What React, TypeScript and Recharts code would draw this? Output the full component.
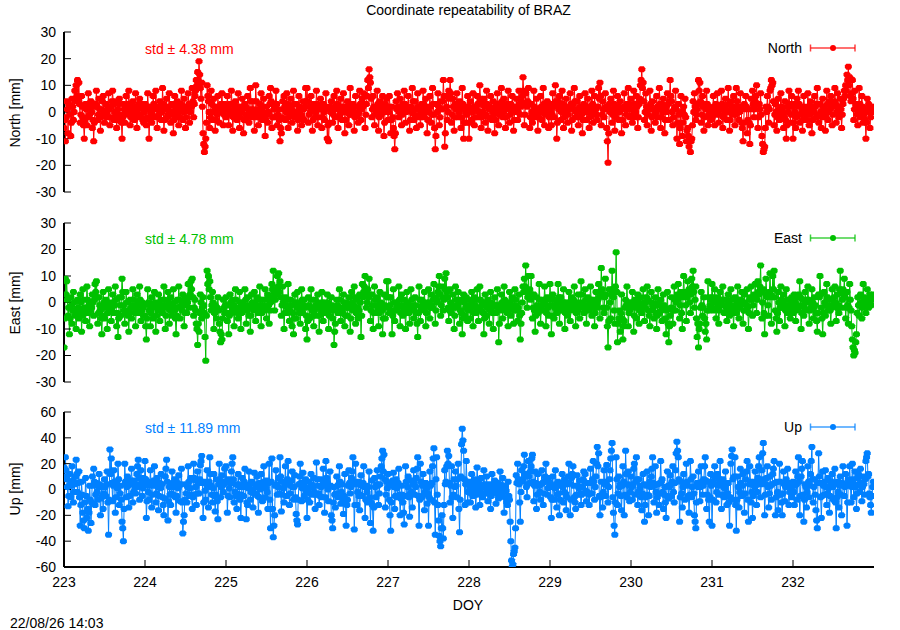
import React from 'react';
import { LineChart, Line, XAxis, YAxis } from 'recharts';

// ─── Data (mm, one sample every 1/120 day, starting DOY 223.00) ──────────────

const START_DOY = 223;
const SAMPLES_PER_DAY = 120;

const northMm = [
  // 223
  -6, -3, -11, -2, 4, 1, -8, 3, 2, -1, -9, -4, 5, 2, -3, 0, 8, 4, 10, 6,
  12, 5, 11, 3, -4, -1, 6, 2, -2, -5, -10, -3, 3, 1, -5, -2, 7, 3, -1, 2,
  4, 0, -6, -3, -11, -4, 2, 3, 8, 2, -3, -1, 5, 1, -7, -2, 1, 4, 6, 0,
  -4, -1, 3, 0, -2, 2, 7, 1, -5, -2, 2, 4, 8, 3, -3, 0, 4, -1, -6, -3,
  1, 3, 5, -1, -2, -4, -10, -2, 3, 1, -4, 0, 6, 2, -1, 3, 8, 1, -5, -2,
  2, -1, 4, 1, -3, 0, 7, 2, -6, -2, 1, 3, 5, -1, -2, 2, 3, -3, -4, 0,
  // 224
  3, 1, -5, -2, 7, 2, -10, -3, 2, 0, -4, -1, 6, 3, -2, 1, 8, 2, -6, -2,
  1, -1, 4, 2, -3, 0, 9, 3, -7, -3, 2, 1, 5, -2, -1, 2, 7, 0, -4, -1,
  3, 0, -8, -3, 6, 2, -2, 1, 4, -1, -5, -2, 1, 3, 8, 2, -3, 0, 5, 1,
  -6, -2, 2, 1, 7, 3, -4, 0, 3, 2, 9, 4, -2, 3, 6, 8, 12, 10, 15, 12,
  19, 14, 9, 5, 11, 2, -8, -12, -15, -13, -10, -4, 10, 6, 4, 0, -6, -2, 8, 3,
  -3, 0, 5, 2, -7, -3, 2, -1, 6, 1, -4, 0, 1, 3, 7, 2, -5, -1, 3, 1,
  // 225
  -2, 1, 6, 2, -5, -1, 3, 0, 8, 3, -7, -2, 1, 2, 4, -1, -3, 0, 7, 2,
  -6, -2, 2, 0, 5, 1, -8, -3, 3, 2, -1, -2, 6, 1, -4, 0, 9, 4, -2, 1,
  4, 0, -7, -2, 10, 4, 1, -1, -5, -2, 3, 1, 7, 2, -3, 0, 5, -1, -9, -3,
  2, -1, -4, 0, 6, 3, 9, 4, -6, -2, 3, 1, -2, 2, 8, 3, -5, -1, 1, -3,
  -11, -6, -8, -2, 4, 1, 6, 2, -3, 0, 7, 3, -6, -2, 2, 0, 5, 1, -4, -1,
  8, 3, -2, 0, 3, -1, -7, -3, 6, 2, 1, -1, -5, -2, 4, 1, -3, 2, 9, 4,
  // 226
  9, 4, -4, -1, 2, 0, 6, 2, -7, -3, 3, 1, -2, 0, 8, 3, -5, -2, 1, 2,
  5, 1, -6, -2, 3, 0, -3, 1, 7, 2, -10, -5, -11, -4, 2, 0, 4, 1, -4, -1,
  6, 2, -2, 1, 8, 3, -6, -2, 1, -1, 5, 2, -3, 0, 7, 2, -8, -3, 2, 0,
  4, 1, -5, -1, 9, 3, -1, 1, 3, 0, -7, -2, 6, 2, 2, -1, -4, 0, 8, 3,
  -3, 1, 5, 2, 7, 3, -6, -1, 3, 6, 12, 9, 16, 13, 11, 5, -2, 1, 6, 2,
  -5, -1, 2, 0, 8, 3, -7, -2, 4, 1, -1, 2, 6, 1, -9, -4, 3, 0, 5, 1,
  // 227
  -3, 0, 6, 2, -8, -3, 2, -2, -6, -9, -14, -8, 4, 1, 7, 2, -2, 0, 5, 1,
  -5, -1, 3, 1, 8, 3, -4, 0, 1, 2, 6, 1, -7, -3, 2, 0, 9, 4, -3, -1,
  4, 1, -6, -2, 7, 2, 1, -1, -5, -2, 3, 0, 8, 3, -2, 1, 5, 0, -8, -3,
  2, 0, 6, 2, -4, -1, 9, 3, -1, -6, -14, -9, 3, 0, 7, 2, -5, -2, 4, 1,
  1, 4, 12, 6, -13, -8, 6, 2, -3, 0, 8, 5, 12, 7, -4, -1, 5, 2, -7, -2,
  3, 1, 7, 2, -2, 0, 4, 1, -6, -2, 9, 3, -10, -4, 2, 0, -4, -1, 6, 2,
  // 228
  -10, -4, 4, 1, -3, 0, 7, 2, -5, -2, 2, 1, 6, 3, -2, 0, 10, 5, -6, -2,
  3, 0, 5, 2, -4, -1, 8, 3, -7, -2, 1, 2, 6, 1, -3, 0, 4, -1, -8, -3,
  2, 0, 7, 3, -5, -1, 3, 1, 9, 4, -2, 0, 5, 2, -6, -2, 1, 3, 8, 2,
  -4, -1, 3, 1, 6, 2, -7, -3, 2, 0, 5, 1, -3, 0, 8, 3, -1, 2, 4, 6,
  13, 8, -5, -1, 7, 3, 2, 4, 9, 3, -6, -2, 3, 0, -4, -1, 8, 2, -2, 0,
  5, 1, -7, -2, 1, 0, 6, 2, -3, 1, 9, 3, -5, -1, 2, 0, 4, 1, -6, -2,
  // 229
  3, 0, -5, -1, 7, 2, -2, 3, 10, 4, -10, -4, 4, 1, 6, 2, -3, 0, 8, 3,
  -6, -2, 2, 0, 5, 1, -4, -1, 1, 2, 7, 3, -7, -3, 3, 1, 9, 4, -2, 0,
  4, 1, -5, -2, 6, 2, 1, -1, -8, -3, 3, 0, 7, 2, -3, 0, 5, 1, -6, -2,
  2, 0, 8, 3, -4, -1, 6, 2, 1, -1, -3, 2, 9, 5, 11, 6, -5, -1, 4, 1,
  -2, 1, 7, 2, -6, -11, -19, -8, 3, 0, 5, 1, -4, -1, 8, 3, -7, -2, 2, 0,
  6, 2, -3, 0, 4, 1, -8, -3, 1, 2, 7, 2, -5, -1, 3, 1, 9, 3, -2, 1,
  // 230
  5, 1, -4, -1, 8, 3, -2, 0, 6, 2, -6, -2, 3, 5, 10, 12, 16, 9, 11, 4,
  -3, 0, 7, 2, -5, -1, 2, 1, 8, 3, -7, -2, 4, 1, 1, -1, -4, 0, 6, 2,
  -2, 1, 9, 3, -6, -2, 3, 0, 5, 2, -8, -3, 2, 0, 7, 3, -3, 4, 12, 6,
  4, 0, -5, -2, 1, 2, 8, 1, -10, -4, 3, -1, -12, -6, 6, 0, -9, -4, 2, -1,
  5, -2, -11, -7, -6, -9, -13, -10, -15, -11, -10, -5, 4, 0, 7, 2, -3, -1, 1, 3,
  12, 8, 11, 4, -4, -1, 6, 2, -7, -2, 3, 1, 8, 3, -5, -1, 2, 0, -3, 1,
  // 231
  -2, 1, 6, 2, -5, -1, 3, 0, 7, 2, -4, -1, 1, 2, 8, 3, -6, -2, 2, 0,
  5, 1, -3, 0, 9, 3, -7, -3, 4, 1, -1, 2, 6, 1, -5, -1, 9, 4, 2, 0,
  -3, 0, 7, 2, -4, -6, -11, -4, 3, 1, 6, 2, -8, -3, 1, -4, -12, -5, 5, 1,
  8, 3, -2, 1, 4, 6, 10, 3, -6, -2, 3, 1, 7, -1, -9, -12, -15, -14, -13, -6,
  2, 0, 6, 2, -4, 1, 8, 9, 12, 10, 11, 4, -5, -1, 3, 0, -7, -2, 5, 1,
  -3, 0, 7, 2, 1, -1, -6, -2, 4, -3, -10, -5, 2, 0, 8, 3, -4, -1, 6, 2,
  // 232
  -10, -4, 3, 0, -6, -2, 5, 2, 8, 3, -4, -1, 2, 0, -7, -3, 6, 2, 1, -1,
  -3, 0, 7, 2, -5, -1, 4, 1, -8, -3, 2, 0, 6, 2, -2, 3, 9, 3, -4, -1,
  3, 0, -6, -2, 5, 2, 1, -1, -7, -2, 8, 3, -3, 0, 4, 1, 6, 2, -5, -1,
  2, 4, 9, 3, -4, 0, 7, 2, -2, 1, 5, 1, -6, -1, 3, 5, 8, 6, 10, 8,
  14, 12, 17, 10, 13, 6, 4, 7, 12, 5, -3, 1, 8, 3, 2, -1, -5, 0, 9, 3,
  -2, 1, 6, 2, -4, -1, 1, -3, -10, -4, 5, 1, 3, 0, -6, -2, 2, 0, 1, 2,
];

const eastMm = [
  // 223
  -17, -6, 9, 3, 8, 1, -5, -2, -12, -6, 2, -1, -8, -3, 4, 0, -3, -5, -10, -4,
  1, -2, -6, -3, 3, 0, -11, -5, 5, 1, -2, -4, -7, -2, 6, 1, -4, -1, -9, -3,
  0, -2, 3, 0, -5, 1, 7, 4, 8, 2, -8, -4, 2, -1, -3, -6, -12, -5, 4, 0,
  -6, -2, 1, -1, -10, -4, 5, 0, -2, -3, -7, -2, 3, 0, -4, -1, 6, 1, -9, -4,
  -13, -6, 2, -1, -5, 2, 9, 4, -1, -3, -8, -4, 4, 0, -3, -5, -11, -4, 1, -2,
  -6, -1, 5, 1, -2, -4, -9, -3, 3, 0, -4, -1, 6, 1, -7, -3, 0, -2, -5, -1,
  // 224
  -5, -9, -14, -6, 5, 0, -3, -1, -9, -4, 2, -2, -6, -1, 4, 0, -11, -5, -1, -3,
  3, 0, -7, -2, 1, -3, -4, -1, 6, 1, -10, -5, -2, -1, 4, 0, -8, -3, 2, -2,
  -5, -1, 5, 0, -3, -6, -12, -5, 1, -2, 6, 1, -6, -2, -1, -3, 3, 0, -9, -4,
  2, -1, -4, 0, 7, 2, -2, 3, 8, 5, 9, 2, -5, -2, 1, -3, -8, -10, -16, -8,
  -11, -4, 3, 0, -6, -2, 2, -1, -4, -13, -22, -5, 12, 7, 10, 5, 8, 2, -3, -1,
  4, 0, -10, -4, -1, -3, -6, -2, 2, -3, -8, -11, -15, -12, -14, -6, 1, -2, -4, -1,
  // 225
  2, -1, -7, -4, -12, -5, 3, 0, -4, -2, 1, -1, -9, -3, 5, 1, -2, -4, -6, -2,
  4, 0, -10, -4, 0, -2, -3, -1, 5, 1, -8, -3, 2, -1, -5, -2, -11, -5, 3, 0,
  -1, -3, 4, 0, -7, -2, 2, -1, -4, -2, 6, 1, -9, -4, 1, -1, -2, -3, 5, 1,
  -6, -2, 3, -1, -8, -3, 0, 2, 7, 5, 12, 4, -3, 1, 5, 3, 10, 6, 11, 4,
  8, 2, -5, -1, 6, 0, -10, -4, 2, -1, -4, -2, 7, 1, -7, -3, 1, -1, -9, -4,
  -12, -6, 3, 0, -6, -2, 4, 0, -2, -4, -8, -3, 5, 1, -4, -1, 1, -2, -10, -5,
  // 226
  -14, -7, 2, -1, -6, -2, 5, 1, -3, -5, -9, -3, 1, -1, -5, -2, 3, 0, -11, -5,
  -2, -4, 4, 0, -7, -3, 0, -2, -4, -1, 3, 0, -10, -5, -1, -3, 2, -1, -6, -2,
  -16, -11, -8, -3, 1, -1, -4, -2, 5, 1, -7, -3, -2, -4, 3, 0, -9, -5, 0, -2,
  -5, -2, 2, -1, -11, -6, 4, 0, -3, -1, 6, 2, -8, -4, 1, -2, -6, -3, 3, 0,
  -13, -5, 7, 2, 4, 6, 10, 4, -2, 0, 5, 2, 9, 3, -7, -3, 3, -1, -10, -4,
  6, 1, -4, -1, 2, -2, -9, -4, 4, 0, -1, -3, -12, -6, 3, -1, -6, -2, 8, 2,
  // 227
  8, 2, -4, -1, 2, -3, -12, -5, 5, 0, -7, -3, 0, -2, -3, -1, 6, 1, -9, -4,
  3, -1, -5, -2, 1, -3, -10, -4, 4, 0, -2, -4, -8, -3, 5, 1, -1, -2, -6, -3,
  2, -1, -4, -8, -13, -4, 6, 1, -7, -2, 1, -1, -3, 0, 4, -2, -9, -4, 0, -1,
  5, 0, -6, -2, 3, -1, -2, 1, 7, 2, -8, -3, 1, 0, 4, 6, 10, 3, -5, -1,
  6, 2, -3, 1, 9, 5, 11, 4, 2, -2, -7, -3, 5, 0, -4, -1, 3, -2, -10, -5,
  6, 1, -2, -1, 4, 0, -8, -3, 1, -4, -12, -6, 3, 0, -5, -2, 2, -1, -7, -3,
  // 228
  1, -2, -6, -2, 4, 0, -9, -4, 2, -1, -4, -2, 5, 1, -7, -3, 6, 1, -3, -1,
  0, -4, -12, -6, 3, 0, -5, -2, 1, -1, -8, -3, 4, 0, -2, -4, -10, -4, 2, -1,
  -4, -1, 5, -2, -15, -8, -1, -3, 3, 0, -6, -2, 6, 1, -3, -1, 0, -4, -9, -3,
  4, 0, -5, -2, 2, -1, -8, -3, 5, 1, -1, -3, -7, -2, 3, -5, -14, -8, -4, 0,
  6, 4, 9, 6, 14, 5, -2, 2, 10, 4, 5, 1, 10, 3, -6, -2, 3, -3, -11, -5,
  2, -1, -4, -2, 7, 1, -8, -3, 1, -1, -3, 0, 6, 1, -9, -4, 2, -2, -5, -1,
  // 229
  7, 1, -12, -5, 3, -1, -6, -2, 1, -1, -4, 0, 7, 2, -8, -3, 2, -2, -3, 0,
  5, 0, -10, -4, 0, -2, -5, -1, 4, 0, -7, -3, 2, -1, -2, 1, 6, 0, -9, -4,
  -1, -3, 3, 0, -6, -1, 8, 3, 0, -2, -4, -1, 5, 1, -8, -3, 2, -1, -3, 0,
  6, 1, -5, -2, 1, -1, -9, -4, 4, 0, -2, 1, 7, 2, -6, 4, 13, 5, 3, -2,
  -4, 2, 9, 3, -2, -9, -17, -7, 5, 0, -6, 3, 12, 5, 2, -3, -8, 6, 19, 4,
  -15, -8, -6, -3, -11, -4, 3, -6, -14, -9, -7, -2, 1, -1, 6, 0, -9, -4, -3, 0,
  // 230
  -2, 0, 4, -1, -11, -5, 1, -2, -6, -1, 3, 0, -8, -3, 2, -1, -4, -2, 5, 0,
  -7, -2, 0, 2, 6, 1, -3, -5, -9, -3, 4, 0, -1, -2, -6, -1, 2, -4, -10, -5,
  5, 0, -4, -1, 1, -3, -7, -2, 3, -1, -2, -6, -12, -3, 4, -8, -15, -9, -5, -2,
  2, -2, -8, -3, 6, 1, -3, 0, 1, 3, 7, 2, -6, -1, 4, -4, -10, 2, 10, 4,
  3, -1, -7, 2, 8, 4, 5, 0, -4, 3, 9, 6, 12, 4, -2, 1, 6, -6, -13, -8,
  -17, -10, -8, -2, 4, -1, -5, -2, 2, -6, -11, -8, -14, -3, 8, 2, -3, -1, 1, -2,
  // 231
  7, 2, -3, 0, 5, 1, -6, -2, 2, -1, -8, -3, 4, 0, -1, 1, 6, 1, -4, -1,
  1, -2, -7, -3, 3, 0, -5, -1, 5, 1, -2, -4, -9, -3, 2, -1, -4, 0, 6, 1,
  -6, -2, 0, 1, 4, 0, -8, -3, 3, 0, -3, -1, 5, -2, -10, -4, 1, 2, 6, 1,
  -5, -1, 2, 3, 7, 2, -4, 1, 8, 4, 3, 6, 14, 4, -6, 0, 5, -4, -12, -5,
  9, 3, 2, -1, -5, 4, 11, 3, -8, 2, 10, 5, 12, 2, -3, -6, -11, -4, 4, 0,
  -7, -2, 6, 1, -2, 0, 3, -1, -9, -3, 5, 1, -4, -1, 1, -2, -6, -2, 2, 0,
  // 232
  -4, -1, 3, 0, -7, -3, 2, -1, -2, 3, 8, 2, -10, -4, 1, -1, -5, -2, 4, 0,
  -3, 1, 6, 1, -8, -3, 0, -2, 5, 0, -6, -2, 2, -1, -4, -7, -11, -4, 3, 2,
  10, 3, -2, -6, -12, -4, 4, 0, -5, -1, 7, 2, -3, -1, 1, -3, -8, -2, 5, 1,
  -1, 2, 6, 0, -7, -2, 3, -1, -4, 5, 12, 4, -2, 1, 5, 3, 9, 2, -6, -2,
  4, -1, -8, -2, 7, 1, -3, -9, -14, -17, -20, -18, -19, -15, -12, -4, 2, -1, -5, -1,
  3, 0, -6, -2, 7, 2, 1, -1, -4, -1, 5, 1, -2, 0, 3, 1, -1, 2, 3, 1,
];

const upMm = [
  // 223
  17, 10, 25, 15, 8, 2, -13, -5, 12, 4, -6, 3, 18, 7, -10, -2, 4, 10, 23, 12,
  -2, 5, 14, -6, -28, -12, 6, -4, -18, -24, -30, -10, 9, -5, -22, -15, -32, -18, 3, -8,
  -26, -10, 10, 3, 16, 6, -12, -4, 5, -2, -8, 2, 12, 4, -20, -7, 2, -5, -15, -3,
  8, 2, -5, 4, 14, -10, -35, -8, 31, 12, 24, 5, -9, 3, 15, 6, -18, -6, 6, 1,
  20, 8, -12, -3, 3, -8, -25, -30, -40, -15, 20, 6, -6, 2, 10, 3, -14, -5, 4, 7,
  16, 6, -10, -2, 7, 1, -3, 4, 12, 18, 23, 9, -8, 2, 15, 5, -5, 1, 9, 3,
  // 224
  22, 8, -22, -9, 6, -2, -8, 3, 15, 5, -14, -4, 3, 7, 18, 6, -10, -3, 9, 2,
  -16, -5, 5, 1, 12, 4, -6, -12, -20, -7, 10, 16, 23, 6, -24, -9, 2, -4, -12, -3,
  14, 5, -4, 2, 8, -6, -18, -5, 5, 1, 11, 3, -9, 4, 16, -10, -34, -25, -20, -8,
  4, -3, -10, 2, 18, 6, -5, 1, 9, -4, -15, -6, 20, 9, 7, 2, -12, -3, 14, 5,
  -3, 8, 19, 22, 26, 5, -22, -10, 6, -1, -8, 4, 15, 2, -14, 6, 25, 12, 3, -4,
  -10, 1, 12, -5, -17, -4, 8, -9, -23, 4, 20, 7, -6, 2, 11, 3, -2, 6, 16, 5,
  // 225
  18, 6, -18, -5, 8, 1, -6, 5, 14, 20, 25, 8, -10, -2, 4, -5, -15, -3, 12, 4,
  2, -8, -22, -4, 9, 2, -5, 6, 16, 3, -23, -10, -12, 1, 14, 4, -8, -2, 6, 0,
  -14, -3, 13, 4, -3, 2, 10, -5, -18, -6, 5, 0, 12, 3, -9, 4, 18, 6, -6, 1,
  7, -2, -15, 5, 20, -8, -30, 6, 24, -15, -37, -28, -20, 3, 15, 4, -4, 2, 9, -3,
  25, 10, -17, -4, 6, 1, -10, 3, 18, 5, -5, 8, 22, 6, -12, -3, 3, 7, 14, 2,
  -8, 2, 11, -6, -19, -24, -27, -8, 4, 10, 20, 5, -9, 1, 13, 4, -5, 2, 8, -2,
  // 226
  -22, -8, 6, 1, -10, -3, 12, 4, -4, 2, 9, -2, -15, -4, 21, 8, 3, -3, -12, -5,
  8, 2, -6, 3, 16, 5, -18, -6, 22, 9, 5, 0, -9, 2, 14, 3, -20, -24, -30, -10,
  2, -4, -14, -3, 10, 3, -6, 4, 18, 6, -11, -2, 4, -8, -19, -5, 12, -10, -28, -12,
  -8, 3, 15, 5, -3, 2, 9, 14, 25, 6, -31, -12, 20, 4, -12, -2, 6, -5, -16, -4,
  11, 3, -5, 5, 18, 2, -22, -8, 3, -2, -10, 2, 14, -6, -26, -10, 7, -12, -32, -14,
  9, 2, -6, 4, 15, 3, -12, -3, 4, 10, 18, 24, 30, 14, 27, 8, -14, -4, 6, 1,
  // 227
  12, 3, -8, -20, -32, -10, 4, 7, 13, 2, -15, -5, 8, 1, -6, 5, 16, -4, -20, -7,
  3, -4, -10, -18, -27, -5, 18, 6, -5, 2, 10, -6, -21, -3, 7, -2, -14, 4, 15, 5,
  -4, 2, 9, 16, 25, -5, -28, -8, 20, 6, -6, 3, 12, -4, -16, -2, 5, 1, -11, -3,
  -28, -6, 14, 3, -8, 5, 18, 24, 32, -10, -35, 8, 25, -4, -12, -24, -36, -40, -44, -30,
  -20, -30, -38, -12, 15, 4, 6, 18, 30, 20, 26, 5, -10, 3, 18, -6, -22, -4, 8, 2,
  14, 3, -6, 8, 20, -15, -33, -8, 10, 35, 47, 38, 30, 8, -12, 4, 22, 6, -10, -2,
  // 228
  6, 1, -10, -3, 12, 4, -5, 2, 8, -2, -14, -4, 17, 6, 2, -3, -12, -2, 9, 3,
  -6, 2, 15, 4, -3, 1, 10, 2, -9, -3, 4, -1, -15, -5, 12, 3, -2, 1, 7, 0,
  -11, -3, 5, 0, -7, 2, 14, 4, -4, 1, 9, -2, -18, -6, 3, -1, -10, -12, 6, -5,
  -8, -25, -40, -55, -60, -58, -50, -48, -45, -30, 11, 5, 20, 8, 4, -10, -25, -2, 15, 6,
  8, 18, 27, 12, 10, 2, -6, 4, 22, 10, 5, 14, 18, 24, 27, 6, -9, 3, 14, 5,
  -15, -4, 12, 3, 3, -2, -8, 4, 15, 5, -12, -3, 6, 10, 20, 8, -4, 1, 9, 2,
  // 229
  5, -6, -22, -8, 10, 2, -8, 1, 15, 4, -14, -4, 6, -3, -20, -8, 3, 5, 12, 2,
  -10, -2, 8, -3, -16, -6, 4, 10, 20, 5, -20, -8, 9, 12, 18, 3, -6, -10, -15, -4,
  11, 3, -4, 1, 7, -3, -12, -4, 2, 8, 14, 6, 12, -1, -9, -2, 5, -4, -12, -3,
  16, 5, -3, 8, 22, 6, -8, 2, 10, 20, 33, 18, 28, -5, -20, -6, 6, -4, -14, -2,
  15, 4, -5, 6, 19, 3, -10, 2, 8, 15, 24, 30, 36, -6, -18, -28, -35, -10, 25, 8,
  -12, -3, 10, 2, 4, -5, -16, 3, 18, 6, -20, -4, 30, 12, -6, 4, 14, 3, -9, -2,
  // 230
  10, 2, -8, 4, 16, 20, -4, 6, 25, 8, -12, -2, 8, 1, 3, -6, -16, -3, 12, 4,
  -25, -12, -6, 3, 14, -4, -20, -5, 6, 2, 10, 16, 25, 5, -10, 3, 18, -2, -18, -6,
  4, -3, -12, 5, 22, 6, 8, -2, -15, -4, 2, -10, -22, -5, 14, 3, -7, 2, 11, 4,
  -5, 6, 18, -2, -10, 5, 15, 28, 37, 30, 25, 8, -25, -6, 6, -3, -14, 2, 12, 4,
  -8, 4, 20, 6, 3, -5, -18, -4, 22, 8, -6, 2, 10, -3, -20, -25, -30, -10, 5, 2,
  14, 4, -9, 2, 18, 6, -4, 3, 8, 18, 25, 7, -15, -4, 6, -8, -25, -6, 12, 3,
  // 231
  -28, -8, 6, 10, 18, 4, -10, -2, 12, 3, -4, 8, 22, 5, -15, -4, 8, 2, -6, 1,
  14, 4, -12, -3, 5, -10, -28, -6, 20, 26, 31, 8, -8, 10, 25, -12, -32, -8, 10, 2,
  -14, -2, 16, 5, -5, 3, 12, -4, -18, -3, 8, 14, 22, -8, -25, 4, 18, 6, -10, -2,
  -22, -5, 6, 2, 14, 3, -12, -2, 9, 18, 25, 6, -6, 4, 15, 28, 36, 8, -20, -4,
  4, 9, 18, 2, -14, -3, 10, 3, -8, 4, 12, 16, 22, 5, -20, -6, 6, -2, -16, -4,
  20, 6, -4, -10, -20, -3, 14, 4, -9, 2, 8, 3, 16, 5, -12, -2, 5, 1, -6, 3,
  // 232
  6, -2, -12, 3, 14, 4, -8, 10, 25, 6, -20, -5, 10, 16, 22, -4, -25, -8, 4, 2,
  -14, -2, 18, 6, -6, 3, 12, 22, 33, 8, -10, 2, 8, -4, -16, -24, -30, 5, 28, 10,
  5, -6, -22, -5, 14, 3, -4, 6, 15, 2, -12, -3, 9, 1, -18, -5, 3, 6, 12, 2,
  -8, 4, 16, -10, -30, -6, 6, -2, -14, 3, 10, -4, -20, 5, 18, 3, -5, 2, 12, 4,
  -28, -10, 8, 3, 18, 5, -10, 2, 20, 8, -6, 4, 14, 2, -15, -3, 9, 12, 4, -2,
  16, 5, -9, 2, 10, 4, -4, 8, 22, 25, 28, 10, 12, -3, -6, -12, -18, -5, 2, 6,
];

const doyTicks = [223, 224, 225, 226, 227, 228, 229, 230, 231, 232];
const horizTicks = [-30, -20, -10, 0, 10, 20, 30];
const upTicks = [-60, -40, -20, 0, 20, 40, 60];

const FONT = '"Liberation Sans", Arial, Helvetica, sans-serif';
const RED = '#ff0000';
const GREEN = '#00c000';
const BLUE = '#0080ff';

const toRows = (values: number[]) =>
  values.map((v, i) => ({ doy: START_DOY + i / SAMPLES_PER_DAY, v }));

// ─── Marker: filled point with errorbar caps ──────────────────────────────────

function Marker({ cx, cy, color }: any) {
  if (cx == null || cy == null || isNaN(cx) || isNaN(cy)) return <g />;
  const pts = [
    [cx - 3.5, cy - 1.2], [cx - 2, cy - 3], [cx + 2, cy - 3], [cx + 3.5, cy - 1.2],
    [cx + 3.5, cy + 1.2], [cx + 2, cy + 3], [cx - 2, cy + 3], [cx - 3.5, cy + 1.2],
  ].map((p) => p.join(',')).join(' ');
  return <polygon points={pts} fill={color} />;
}

const emptyTick = () => <g />;

// ─── One panel ────────────────────────────────────────────────────────────────

interface PanelProps {
  top: number;
  height: number;
  marginTop: number;
  marginBottom: number;
  values: number[];
  color: string;
  domain: [number, number];
  ticks: number[];
  showX?: boolean;
}

function Panel({ top, height, marginTop, marginBottom, values, color, domain, ticks, showX }: PanelProps) {
  const data = toRows(values);
  const frame = { stroke: '#000', strokeWidth: 2 };
  return (
    <div style={{ position: 'absolute', left: 0, top, width: 900, height }}>
      <LineChart
        width={900}
        height={height}
        data={data}
        margin={{ top: marginTop, right: 26, bottom: marginBottom, left: 0 }}
      >
        <XAxis
          xAxisId="b"
          dataKey="doy"
          type="number"
          domain={[223, 233]}
          ticks={doyTicks}
          allowDataOverflow
          height={showX ? 30 : 0}
          axisLine={frame}
          tickLine={showX ? { stroke: '#000' } : false}
          tickSize={-7}
          tickMargin={17}
          tick={showX ? { fill: '#000', fontSize: 14 } : false}
        />
        <XAxis
          xAxisId="t"
          orientation="top"
          dataKey="doy"
          type="number"
          domain={[223, 233]}
          ticks={doyTicks}
          allowDataOverflow
          height={0}
          axisLine={frame}
          tickLine={showX ? { stroke: '#000' } : false}
          tickSize={-7}
          tick={showX ? emptyTick : false}
        />
        <YAxis
          yAxisId="l"
          type="number"
          domain={domain}
          ticks={ticks}
          allowDataOverflow
          width={64}
          axisLine={frame}
          tickLine={{ stroke: '#000' }}
          tickSize={-7}
          tickMargin={15}
          tick={{ fill: '#000', fontSize: 14 }}
        />
        <YAxis
          yAxisId="r"
          orientation="right"
          type="number"
          domain={domain}
          ticks={ticks}
          allowDataOverflow
          width={0}
          axisLine={frame}
          tickLine={{ stroke: '#000' }}
          tickSize={-7}
          tick={emptyTick}
        />
        <Line
          xAxisId="b"
          yAxisId="l"
          dataKey="v"
          type="linear"
          stroke={color}
          strokeWidth={1}
          isAnimationActive={false}
          dot={(p: any) => <Marker key={p.index} cx={p.cx} cy={p.cy} color={color} />}
          activeDot={false}
        />
      </LineChart>
    </div>
  );
}

// ─── Text helpers ─────────────────────────────────────────────────────────────

function Txt({ x, y, children, anchor = 'middle', color = '#000', rotate = false }: any) {
  const tx = anchor === 'start' ? '0' : anchor === 'end' ? '-100%' : '-50%';
  return (
    <div
      style={{
        position: 'absolute',
        left: x,
        top: y,
        transform: `translate(${tx}, -50%)${rotate ? ' rotate(-90deg)' : ''}`,
        transformOrigin: rotate ? '50% 50%' : undefined,
        whiteSpace: 'nowrap',
        fontSize: 14,
        lineHeight: 1,
        color,
      }}
    >
      {children}
    </div>
  );
}

function LegendKey({ y, name, color }: { y: number; name: string; color: string }) {
  return (
    <>
      <Txt x={802} y={y} anchor="end">{name}</Txt>
      <svg style={{ position: 'absolute', left: 808, top: y - 5 }} width={50} height={10}>
        <g stroke={color} strokeWidth={1.5} strokeOpacity={0.75}>
          <line x1={2.5} y1={5} x2={47} y2={5} />
          <line x1={2.5} y1={1.5} x2={2.5} y2={8.5} />
          <line x1={47} y1={1.5} x2={47} y2={8.5} />
        </g>
        <circle cx={25} cy={5} r={3} fill={color} />
      </svg>
    </>
  );
}

export default function App() {
  return (
    <div
      style={{
        position: 'absolute',
        left: 0,
        top: 0,
        width: 900,
        height: 630,
        background: '#fff',
        fontFamily: FONT,
        overflow: 'hidden',
      }}
    >
      <Panel top={0} height={200} marginTop={32} marginBottom={8} values={northMm} color={RED} domain={[-30, 30]} ticks={horizTicks} />
      <Panel top={200} height={190} marginTop={23} marginBottom={8} values={eastMm} color={GREEN} domain={[-30, 30]} ticks={horizTicks} />
      <Panel top={390} height={240} marginTop={22} marginBottom={33} values={upMm} color={BLUE} domain={[-60, 60]} ticks={upTicks} showX />

      <Txt x={468.5} y={10}>Coordinate repeatability of BRAZ</Txt>

      <Txt x={15} y={112.5} rotate>North [mm]</Txt>
      <Txt x={15} y={302.5} rotate>East [mm]</Txt>
      <Txt x={15} y={489} rotate>Up [mm]</Txt>

      <Txt x={145} y={48.5} anchor="start" color={RED}>std ± 4.38 mm</Txt>
      <Txt x={145} y={238.5} anchor="start" color={GREEN}>std ± 4.78 mm</Txt>
      <Txt x={145} y={428.3} anchor="start" color={BLUE}>std ± 11.89 mm</Txt>

      <LegendKey y={47.7} name="North" color={RED} />
      <LegendKey y={238} name="East" color={GREEN} />
      <LegendKey y={427} name="Up" color={BLUE} />

      <Txt x={468} y={604.7}>DOY</Txt>
      <Txt x={10} y={623.3} anchor="start">22/08/26 14:03</Txt>
    </div>
  );
}
